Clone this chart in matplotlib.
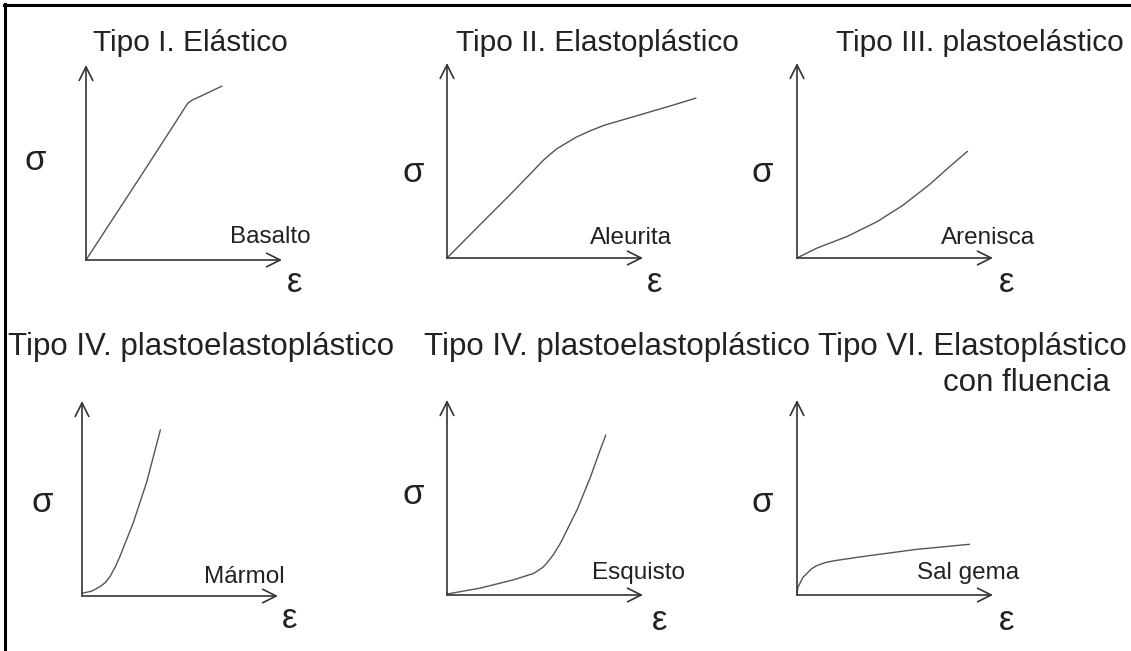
import matplotlib
matplotlib.use("Agg")
from matplotlib import pyplot as plt
from matplotlib.lines import Line2D

W, H = 1131, 651
plt.rcParams["font.family"] = ["Liberation Sans", "DejaVu Sans"]

# stress-strain curve types (strain and stress normalised to axis length)
titles = [
    "Tipo I. Elástico",
    "Tipo II. Elastoplástico",
    "Tipo III. plastoelástico",
    "Tipo IV. plastoelastoplástico",
    "Tipo IV. plastoelastoplástico",
    "Tipo VI. Elastoplástico\ncon fluencia  ",
]
rocks = ["Basalto", "Aleurita", "Arenisca", "Mármol", "Esquisto", "Sal gema"]

strain_basalto = [0, 0.107, 0.276, 0.413, 0.52, 0.545, 0.566, 0.694]
stress_basalto = [0, 0.165, 0.425, 0.638, 0.805, 0.822, 0.831, 0.892]

strain_aleurita = [0, 0.15, 0.32, 0.44, 0.49, 0.53, 0.56, 0.61, 0.66, 0.73, 0.80, 0.97, 1.14, 1.27]
stress_aleurita = [0, 0.152, 0.323, 0.447, 0.50, 0.535, 0.56, 0.59, 0.62, 0.652, 0.68, 0.73, 0.78, 0.82]

strain_arenisca = [0, 0.10, 0.255, 0.41, 0.54, 0.68, 0.78, 0.87]
stress_arenisca = [0, 0.05, 0.11, 0.187, 0.27, 0.38, 0.47, 0.547]

strain_marmol = [0, 0.05, 0.092, 0.12, 0.143, 0.17, 0.194, 0.262, 0.33, 0.40]
stress_marmol = [0.014, 0.025, 0.048, 0.07, 0.10, 0.15, 0.204, 0.377, 0.584, 0.852]

strain_esquisto = [0, 0.168, 0.34, 0.44, 0.46, 0.49, 0.51, 0.545, 0.58, 0.665, 0.73, 0.78, 0.81]
stress_esquisto = [0.005, 0.035, 0.078, 0.11, 0.122, 0.143, 0.164, 0.21, 0.268, 0.44, 0.60, 0.74, 0.82]

strain_sal = [0, 0.005, 0.015, 0.03, 0.05, 0.075, 0.10, 0.14, 0.185, 0.355, 0.61, 0.88]
stress_sal = [0.01, 0.04, 0.06, 0.09, 0.11, 0.135, 0.15, 0.165, 0.175, 0.20, 0.234, 0.26]

curves = [
    (strain_basalto, stress_basalto),
    (strain_aleurita, stress_aleurita),
    (strain_arenisca, stress_arenisca),
    (strain_marmol, stress_marmol),
    (strain_esquisto, stress_esquisto),
    (strain_sal, stress_sal),
]

# layout in pixels: axis origin, axis lengths
origins = [(86, 260), (447, 258), (797, 258), (82, 596), (447, 595), (797, 595)]
ax_w, ax_h = 196, 195
title_pos = [(190, 29, "center"), (597, 29, "center"), (1124, 29, "right"),
             (8, 332, "left"), (424, 332, "left"), (1127, 332, "right")]
title_size = [21.5, 21.5, 21.5, 22.5, 22.5, 22.5]
rock_pos = [(270, 237), (631, 238), (988, 238), (244, 577), (638, 573), (968, 573)]
sigma_pos = [(35, 160), (413, 173), (762, 173), (42, 502), (413, 495), (762, 502)]
eps_pos = [(295, 283), (655, 283), (1007, 283), (290, 618), (660, 620), (1007, 620)]

ink = "#222222"
axis_col = "#333333"
curve_col = "#555555"

fig = plt.figure(figsize=(W / 100, H / 100), dpi=100)

# frame: top and left edges only
fig.add_artist(Line2D([5 / W, 5 / W], [0, 1 - 4 / H], color="black", lw=2.2))
fig.add_artist(Line2D([4 / W, 1], [1 - 5 / H, 1 - 5 / H], color="black", lw=2.2))


def px(x, y):
    return x / W, 1 - y / H


for i, (x0, y0) in enumerate(origins):
    ax = fig.add_axes([x0 / W, 1 - y0 / H, ax_w / W, ax_h / H])
    ax.set_xlim(0, 1)
    ax.set_ylim(0, 1)
    ax.axis("off")
    arrow = dict(arrowstyle="->,head_length=0.7,head_width=0.35", color=axis_col,
                 lw=1.2, shrinkA=0, shrinkB=0, mutation_scale=14)
    ax.annotate("", xy=(1, 0), xytext=(0, 0), arrowprops=arrow, annotation_clip=False)
    ax.annotate("", xy=(0, 1), xytext=(0, 0), arrowprops=arrow, annotation_clip=False)
    strain, stress = curves[i]
    ax.plot(strain, stress, color=curve_col, lw=1.0, clip_on=False,
            solid_capstyle="round", solid_joinstyle="round")

    tx, ty, ha = title_pos[i]
    fig.text(*px(tx, ty), titles[i], ha=ha, va="top", fontsize=title_size[i],
             color=ink, linespacing=1.25, multialignment="right")
    fig.text(*px(*rock_pos[i]), rocks[i], ha="center", va="center", fontsize=17.5, color=ink)
    fig.text(*px(*sigma_pos[i]), "σ", ha="center", va="center", fontsize=25, color=ink)
    fig.text(*px(*eps_pos[i]), "ε", ha="center", va="center", fontsize=25, color=ink)

fig.savefig("out.png", dpi=100)
